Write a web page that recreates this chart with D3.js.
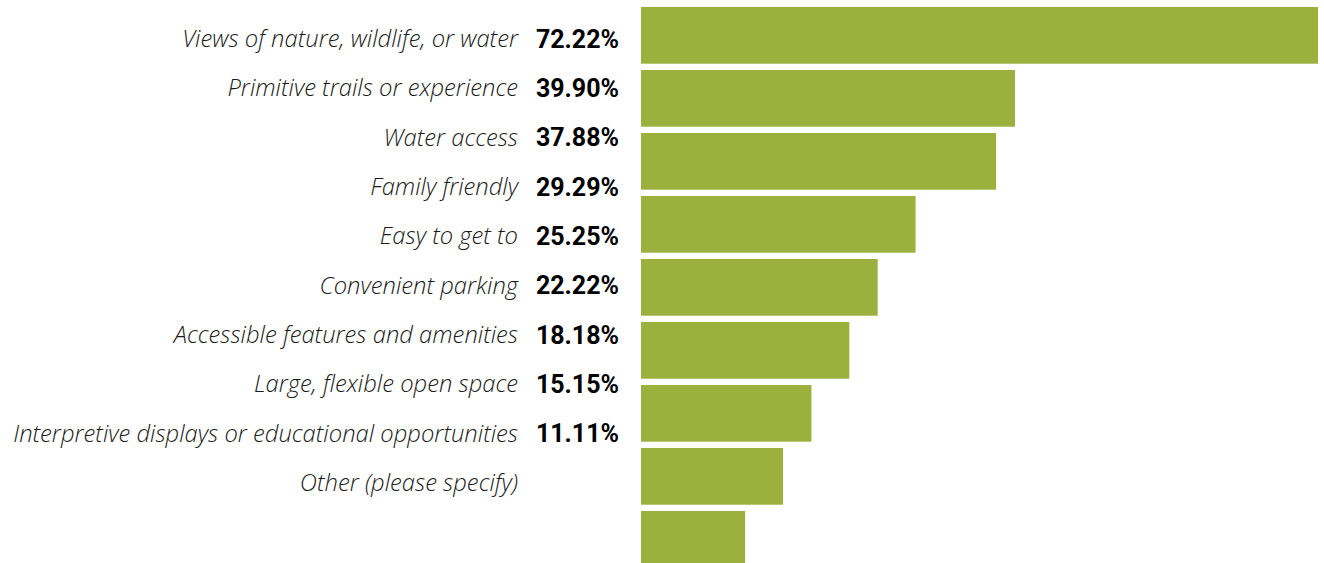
<!DOCTYPE html>
<html>
<head>
<meta charset="utf-8">
<script src="https://cdn.jsdelivr.net/npm/d3@7"></script>
<style>
  body { margin: 0; background: #fff; }
  svg { display: block; }
</style>
</head>
<body>
<script>
// Survey answers (labels) and shares in percent
var categories = [
  "Views of nature, wildlife, or water",
  "Primitive trails or experience",
  "Water access",
  "Family friendly",
  "Easy to get to",
  "Convenient parking",
  "Accessible features and amenities",
  "Large, flexible open space",
  "Interpretive displays or educational opportunities",
  "Other (please specify)"
];
var values = [72.22, 39.90, 37.88, 29.29, 25.25, 22.22, 18.18, 15.15, 11.11];
var valueLabels = ["72.22%", "39.90%", "37.88%", "29.29%", "25.25%", "22.22%", "18.18%", "15.15%", "11.11%"];

var width = 1324, height = 563;

var svg = d3.select("body").append("svg")
    .attr("width", width)
    .attr("height", height);

// label rows and bar rows use their own spacing (like the original)
var labelY = d3.scalePoint()
    .domain(d3.range(categories.length))
    .range([39, 483]);

var barY = d3.scaleBand()
    .domain(d3.range(values.length))
    .range([7, 567.7])
    .paddingInner(0.1)
    .paddingOuter(0);

var xScale = d3.scaleLinear()
    .domain([0, d3.max(values)])
    .range([641, 1318]);

//Bars
svg.selectAll(".bar")
    .data(values)
    .enter().append("rect")
    .attr("class", "bar")
    .attr("x", xScale(0))
    .attr("y", function(d, i) { return barY(i); })
    .attr("width", function(d) { return xScale(d) - xScale(0); })
    .attr("height", barY.bandwidth())
    .style("fill", "#9cb13d");

//Category labels
svg.selectAll(".cat")
    .data(categories)
    .enter().append("text")
    .attr("class", "cat")
    .attr("x", 518)
    .attr("y", function(d, i) { return labelY(i); })
    .attr("dy", "0.33em")
    .style("text-anchor", "end")
    .style("font-family", "'Open Sans', sans-serif")
    .style("font-style", "italic")
    .style("font-weight", 300)
    .style("font-size", "23.8px")
    .style("fill", "#1a1a1a")
    .text(function(d) { return d; });

//Value labels
svg.selectAll(".val")
    .data(valueLabels)
    .enter().append("text")
    .attr("class", "val")
    .attr("x", 619)
    .attr("y", function(d, i) { return labelY(i); })
    .attr("dy", "0.35em")
    .style("text-anchor", "end")
    .style("font-family", "Roboto, sans-serif")
    .style("font-weight", 700)
    .style("font-size", "25px")
    .style("fill", "#000")
    .text(function(d) { return d; });
</script>
</body>
</html>
